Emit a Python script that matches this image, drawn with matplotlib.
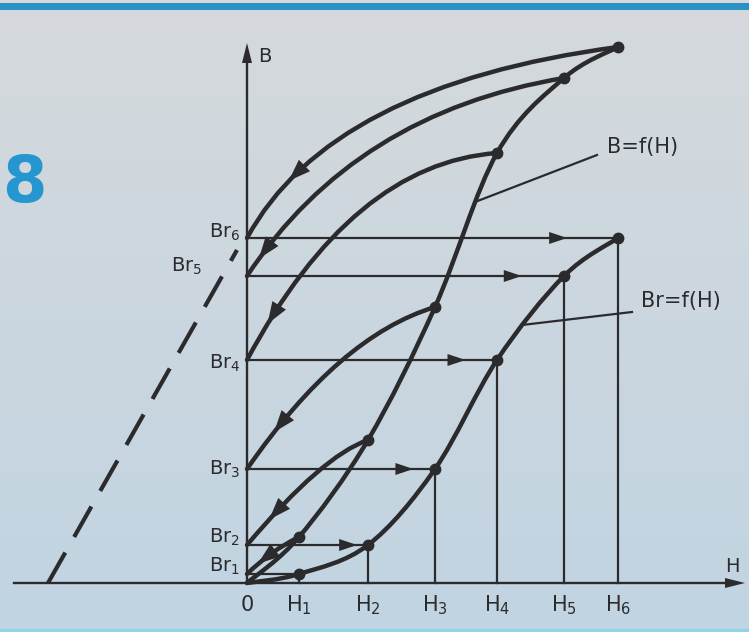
import numpy as np
import matplotlib
matplotlib.use("Agg")
import matplotlib.pyplot as plt
from matplotlib.path import Path
from matplotlib.patches import PathPatch, Polygon, Rectangle

# field strengths H1..H6 and the matching flux densities
H = [52, 121, 188, 250, 317, 371]
B_peak = [46, 143, 276, 430, 505, 536]
B_r = [9, 38, 114, 223, 307, 345]
# a point about halfway along each return branch (peak -> Br on the B axis)
ret_mid_h = [25, 68, 93, 115, 133, 134]
ret_mid_b = [30, 109, 221, 373, 438, 469]
# dashed line on the left
dash_h = [-199, -10]
dash_b = [0, 333]

h_labels = ["H$_1$", "H$_2$", "H$_3$", "H$_4$", "H$_5$", "H$_6$"]
br_labels = ["Br$_1$", "Br$_2$", "Br$_3$", "Br$_4$", "Br$_5$", "Br$_6$"]

INK = "#2b2b2d"
BLUE = "#2596cf"

ret_arrow_t = [0.62, 0.8, 0.82, 0.88, 0.92, 0.77]


def smooth_path(xs, ys):
    # catmull-rom through the points, written as cubic bezier pieces
    p = np.column_stack([xs, ys]).astype(float)
    ext = np.vstack([p[0], p, p[-1]])
    verts = [p[0]]
    codes = [Path.MOVETO]
    for i in range(len(p) - 1):
        p0, p1, p2, p3 = ext[i], ext[i + 1], ext[i + 2], ext[i + 3]
        verts += [p1 + (p2 - p0) / 6, p2 - (p3 - p1) / 6, p2]
        codes += [Path.CURVE4] * 3
    return Path(verts, codes)


def head(ax, tip, direction, length, half_w):
    u = np.asarray(direction, float)
    u = u / np.linalg.norm(u)
    n = np.array([-u[1], u[0]])
    base = np.asarray(tip) - u * length
    ax.add_patch(Polygon([tip, base + n * half_w, base - n * half_w],
                         closed=True, color=INK, lw=0, zorder=6))


fig = plt.figure(figsize=(7.49, 6.32), dpi=100)
ax = fig.add_axes([0, 0, 1, 1])
ax.set_xlim(-247, 502)
ax.set_ylim(-49, 583)
ax.axis("off")

# paper background, a bit greyer at the top and bluer further down
top = np.array([213, 217, 220]) / 255
bot = np.array([193, 212, 226]) / 255
s = np.linspace(0, 1, 200)[:, None]
grad = (top * (1 - s) + bot * s)[:, None, :]
ax.imshow(grad, extent=[-247, 502, -49, 583], aspect="auto", zorder=0)

fig.add_artist(Rectangle((0, 1 - 9.5 / 632), 1, 6.5 / 632, transform=fig.transFigure,
                         color="#2893c4", lw=0))
fig.add_artist(Rectangle((0, 0), 1, 3 / 632, transform=fig.transFigure,
                         color="#8fd3e6", lw=0))

# axes with arrows
ax.plot([-233, 480], [0, 0], color=INK, lw=1.7, zorder=3)
head(ax, (498, 0), (1, 0), 20, 5)
ax.plot([0, 0], [0, 525], color=INK, lw=1.7, zorder=3)
head(ax, (0, 540), (0, 1), 20, 5)

ax.text(11, 527, "B", fontsize=14, color=INK, ha="left", va="center")
ax.text(485, 17, "H", fontsize=14, color=INK, ha="center", va="center")
ax.text(0, -22, "0", fontsize=15, color=INK, ha="center", va="center")

# dashed line
ax.plot(dash_h, dash_b, color=INK, lw=3, dashes=(8.4, 4.3), zorder=3)

# Br levels: horizontal runs and vertical drops
for h, br in zip(H, B_r):
    ax.plot([0, h], [br, br], color=INK, lw=1.6, zorder=3)
    ax.plot([h, h], [0, br], color=INK, lw=1.6, zorder=3)
for h, br in zip(H[1:], B_r[1:]):
    head(ax, (0.84 * h + 8.5, br), (1, 0), 18, 6)

# initial magnetisation B=f(H) and remanence Br=f(H)
for ys in (B_peak, B_r):
    ax.add_patch(PathPatch(smooth_path([0] + H, [0] + ys), fill=False,
                           color=INK, lw=3.2, capstyle="round", zorder=4))

# return branches from each peak down to Br
for h, bp, br, mh, mb, t in zip(H, B_peak, B_r, ret_mid_h, ret_mid_b, ret_arrow_t):
    p0 = np.array([h, bp], float)
    p2 = np.array([0, br], float)
    c = 2 * np.array([mh, mb], float) - (p0 + p2) / 2
    ax.add_patch(PathPatch(Path([p0, c, p2], [Path.MOVETO, Path.CURVE3, Path.CURVE3]),
                           fill=False, color=INK, lw=3.2, capstyle="round", zorder=4))
    q = (1 - t) ** 2 * p0 + 2 * t * (1 - t) * c + t ** 2 * p2
    d = 2 * (1 - t) * (c - p0) + 2 * t * (p2 - c)
    u = d / np.linalg.norm(d)
    head(ax, q + u * 10, d, 22, 8)

ax.plot(H, B_peak, "o", ms=7.5, color=INK, zorder=5)
ax.plot(H, B_r, "o", ms=7.5, color=INK, zorder=5)

# tick labels
for h, lab in zip(H, h_labels):
    ax.text(h, -22, lab, fontsize=15, color=INK, ha="center", va="center")
br_pos = [(-7, 17), (-7, 46), (-7, 114), (-7, 220), (-45, 317), (-7, 351)]
for (x, y), lab in zip(br_pos, br_labels):
    ax.text(x, y, lab, fontsize=14, color=INK, ha="right", va="center")

# curve names with leader lines
ax.plot([228, 350], [381, 428], color=INK, lw=1.6, zorder=3)
ax.text(396, 436, "B=f(H)", fontsize=15, color=INK, ha="center", va="center")
ax.plot([275, 385], [258, 271], color=INK, lw=1.6, zorder=3)
ax.text(434, 282, "Br=f(H)", fontsize=15, color=INK, ha="center", va="center")

ax.text(-222.5, 381, "8", fontsize=46, fontweight="bold", color=BLUE,
        ha="center", va="baseline")

fig.savefig("out.png", dpi=100)
